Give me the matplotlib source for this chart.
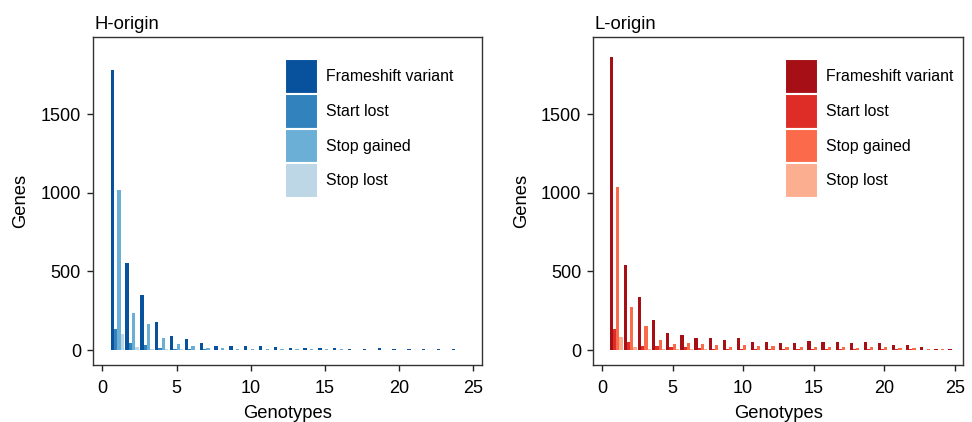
import numpy as np
import matplotlib
matplotlib.use("Agg")
import matplotlib.pyplot as plt
from matplotlib.patches import Patch

plt.rcParams["font.family"] = ["Liberation Sans", "DejaVu Sans"]

categories = ["Frameshift variant", "Start lost", "Stop gained", "Stop lost"]

# H-origin, genotypes 1..24
h_genotypes = list(range(1, 25))
h_frameshift = [1780, 556, 350, 178, 92, 68, 47, 28, 28, 25, 25, 17,
                15, 13, 11, 11, 6, 8, 11, 6, 6, 8, 6, 8]
h_start_lost = [132, 47, 32, 16, 6, 5, 4, 3, 3, 3, 2, 2,
                2, 2, 1, 1, 1, 1, 1, 1, 1, 1, 1, 1]
h_stop_gained = [1015, 238, 168, 79, 40, 28, 16, 11, 8, 8, 7, 6,
                 5, 5, 4, 4, 3, 3, 3, 3, 3, 2, 2, 2]
h_stop_lost = [100, 21, 10, 5, 4, 3, 2, 2, 2, 2, 1, 1,
               1, 1, 1, 1, 1, 1, 1, 1, 1, 1, 1, 1]

# L-origin, genotypes 1..25
l_genotypes = list(range(1, 26))
l_frameshift = [1864, 539, 337, 189, 106, 93, 76, 74, 64, 74, 53, 53,
                47, 42, 57, 49, 51, 42, 51, 47, 34, 34, 17, 8, 4]
l_start_lost = [132, 50, 28, 23, 17, 21, 11, 10, 10, 10, 8, 8,
                7, 7, 7, 6, 6, 5, 5, 5, 4, 4, 3, 2, 1]
l_stop_gained = [1040, 276, 151, 66, 40, 45, 36, 32, 21, 32, 25, 25,
                 17, 17, 19, 17, 17, 13, 21, 17, 13, 13, 8, 4, 2]
l_stop_lost = [85, 21, 10, 6, 5, 4, 4, 3, 3, 3, 3, 2,
               2, 2, 2, 2, 2, 2, 2, 2, 1, 1, 1, 1, 1]

blues = ["#08519c", "#3182bd", "#6baed6", "#bdd7e7"]
reds = ["#a50f15", "#de2d26", "#fb6a4a", "#fcae91"]

panels = [
    ("H-origin", h_genotypes, [h_frameshift, h_start_lost, h_stop_gained, h_stop_lost], blues),
    ("L-origin", l_genotypes, [l_frameshift, l_start_lost, l_stop_gained, l_stop_lost], reds),
]

fig = plt.figure(figsize=(9.72, 4.22), dpi=100)
boxes = [[0.0955, 0.135, 0.4005, 0.777], [0.610, 0.135, 0.381, 0.777]]
legend_x = [0.494, 0.519]
width = 0.225
offsets = (np.arange(4) - 1.5) * width

for box, lx, (title, geno, series, cols) in zip(boxes, legend_x, panels):
    ax = fig.add_axes(box)
    x = np.array(geno)
    for vals, off, c in zip(series, offsets, cols):
        ax.bar(x + off, vals, width=width, color=c, linewidth=0)
    ax.set_xlim(-0.65, 25.6)
    ax.set_ylim(-95, 1990)
    ax.set_xticks([0, 5, 10, 15, 20, 25])
    ax.set_yticks([0, 500, 1000, 1500])
    ax.tick_params(labelsize=13, length=4.5, width=1, color="#222222", pad=4)
    ax.tick_params(axis="x", pad=6)
    for s in ax.spines.values():
        s.set_color("#333333")
        s.set_linewidth(1)
    ax.set_xlabel("Genotypes", fontsize=13.2, labelpad=6)
    ax.set_ylabel("Genes", fontsize=13.2, labelpad=8)
    ax.set_title(title, loc="left", fontsize=13.3, pad=6, x=0.005)
    handles = [Patch(facecolor=c, edgecolor="white", linewidth=1.5) for c in cols]
    ax.legend(handles, categories, loc="upper left", bbox_to_anchor=(lx, 0.933),
              frameon=False, fontsize=11.4, handlelength=2.1, handleheight=3.0,
              handletextpad=0.5, labelspacing=0.0, borderaxespad=0, borderpad=0)

fig.savefig("out.png", dpi=100)
